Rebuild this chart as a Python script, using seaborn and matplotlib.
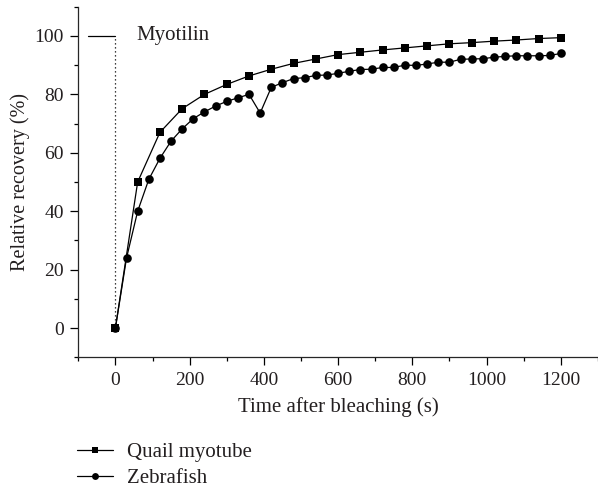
import numpy as np
import pandas as pd
import matplotlib
matplotlib.use("Agg")
import matplotlib.pyplot as plt
import seaborn as sns
from matplotlib.ticker import MultipleLocator

# data
quail_time = list(range(0, 1201, 60))
quail_recovery = [0, 50, 67, 75.1, 80, 83.4, 86.3, 88.6, 90.6, 92.1, 93.6,
                  94.4, 95.2, 95.9, 96.6, 97.3, 97.7, 98.2, 98.6, 99.1, 99.4]

zebra_time = list(range(0, 1201, 30))
zebra_recovery = [0, 24, 40, 50.9, 58.1, 64, 68.2, 71.7, 74, 76, 77.6,
                  78.8, 80, 73.6, 82.4, 84, 85.4, 85.7, 86.5, 86.6, 87.2,
                  87.9, 88.5, 88.6, 89.2, 89.2, 90.0, 89.9, 90.4, 91.0, 91.0,
                  92.0, 92.1, 92.2, 92.7, 93.0, 93.2, 93.2, 93.2, 93.3, 94.0]

quail_df = pd.DataFrame({"time": quail_time, "recovery": quail_recovery})
zebra_df = pd.DataFrame({"time": zebra_time, "recovery": zebra_recovery})

sns.set_style("ticks")
plt.rcParams["font.family"] = ["Liberation Serif", "DejaVu Serif"]
plt.rcParams["font.size"] = 15
plt.rcParams["text.color"] = "#231f20"
plt.rcParams["axes.labelcolor"] = "#231f20"
plt.rcParams["xtick.color"] = "black"
plt.rcParams["ytick.color"] = "black"
plt.rcParams["xtick.labelcolor"] = "#231f20"
plt.rcParams["ytick.labelcolor"] = "#231f20"

fig = plt.figure(figsize=(5.98, 4.88), dpi=100)
ax = fig.add_axes([0.1309, 0.2678, 0.869, 0.7185])

# Myotilin bleach marker
ax.plot([-75, 0], [100, 100], color="black", lw=0.9)
ax.plot([0, 0], [0, 100], color="black", lw=0.9, ls=(0, (1, 2.2)))
ax.text(57, 100, "Myotilin", ha="left", va="center", fontsize=15)

sns.lineplot(data=quail_df, x="time", y="recovery", ax=ax, color="black",
             marker="s", markersize=5.6, markeredgewidth=0, linewidth=0.9,
             label="Quail myotube")
sns.lineplot(data=zebra_df, x="time", y="recovery", ax=ax, color="black",
             marker="o", markersize=6.2, markeredgewidth=0, linewidth=0.9,
             label="Zebrafish")

ax.set_xlim(-100, 1300)
ax.set_ylim(-10, 110)
ax.set_xticks(range(0, 1201, 200))
ax.set_yticks(range(0, 101, 20))
ax.xaxis.set_minor_locator(MultipleLocator(100))
ax.yaxis.set_minor_locator(MultipleLocator(10))
ax.tick_params(which="major", length=5.5, width=0.9, pad=5, labelsize=14)
ax.tick_params(which="minor", length=3, width=0.9)
for s in ["top", "right"]:
    ax.spines[s].set_visible(False)
for s in ["left", "bottom"]:
    ax.spines[s].set_linewidth(0.9)

ax.set_xlabel("Time after bleaching (s)", fontsize=15, va="center")
ax.set_ylabel("Relative recovery (%)", fontsize=14.5, va="center")
ax.xaxis.set_label_coords(0.5, -0.142)
ax.yaxis.set_label_coords(-0.112, 0.5)

handles, labels = ax.get_legend_handles_labels()
ax.get_legend().remove()
fig.legend(handles, labels, loc="upper left", bbox_to_anchor=(77 / 598, 0.0925),
           frameon=False, borderpad=0, borderaxespad=0, markerscale=0.8,
           handlelength=1.73, handletextpad=0.67, labelspacing=0.28,
           fontsize=15)

plt.savefig("out.png", dpi=100)
